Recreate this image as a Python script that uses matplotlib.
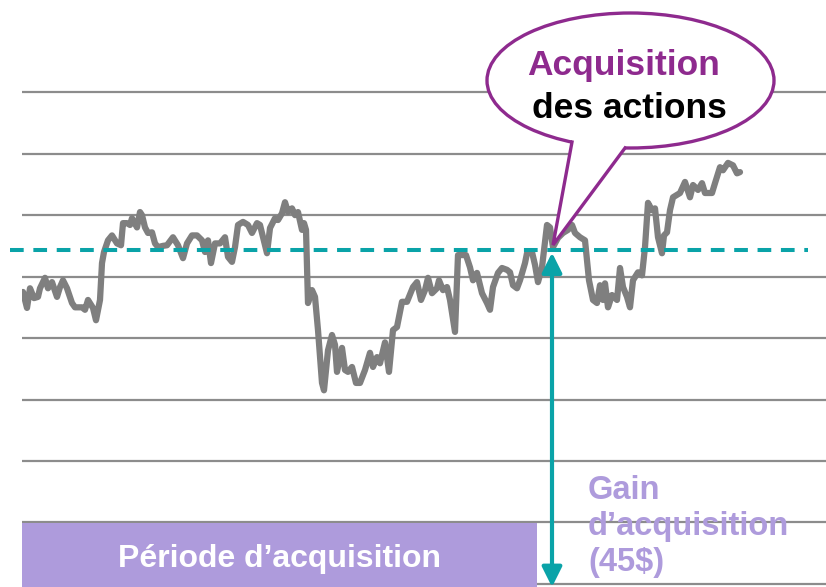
import numpy as np
import matplotlib
matplotlib.use("Agg")
import matplotlib.pyplot as plt
from matplotlib.patches import Ellipse, Polygon, Rectangle


# ============================================================
# DATA
# ============================================================
days = [23, 27, 30, 34, 38, 40, 45, 48, 52, 57, 60, 63, 67, 72, 75, 82, 85, 88, 93, 96,
        100, 102, 104, 108, 112, 117, 121, 123, 127, 130, 132, 137, 140, 142, 145, 148, 152, 155, 158, 163,
        167, 173, 178, 183, 187, 192, 197, 202, 205, 208, 211, 215, 220, 225, 228, 232, 235, 238, 243, 248,
        252, 257, 260, 263, 267, 270, 275, 278, 282, 285, 288, 292, 295, 298, 302, 304, 306, 308,
        312, 315, 318, 322, 324, 328, 332, 335, 337, 342, 345, 348, 352, 356, 360, 365, 370, 373, 377, 380,
        385, 389, 393, 397, 402, 407, 413, 417, 421, 425, 428, 432, 437, 439, 443,
        447, 450, 455, 458, 462, 466, 470, 473, 477, 482, 487, 490, 493, 498, 502, 507, 510, 513, 517, 520,
        525, 527, 532, 535, 538, 542, 547, 550, 553, 558, 563, 568, 572, 575, 580, 585, 589, 593,
        597, 600, 603, 605, 608, 612, 617, 620, 623, 627, 630, 633, 638, 642, 645, 648, 652, 655, 658, 662,
        664, 667, 670, 673, 680, 685, 690, 693, 698, 702, 705, 712, 715, 720, 723, 728, 733, 737, 740]

price = [47.5, 44.9, 48.1, 46.5, 46.7, 48.1, 49.8, 48.1, 49.1, 46.7, 48.3, 49.4, 48.1, 45.7, 45.0, 45.0, 44.6, 46.2, 44.9, 42.9,
         46.2, 52.2, 54.0, 55.9, 56.7, 55.4, 55.1, 58.7, 58.7, 58.4, 59.5, 58.0, 60.5, 60.0, 58.0, 57.1, 57.2, 55.4, 54.8, 55.0,
         55.1, 56.4, 55.1, 53.0, 55.4, 56.7, 56.7, 55.9, 54.0, 55.9, 52.2, 55.4, 55.4, 56.4, 53.2, 52.4, 54.8, 58.4, 58.9, 58.4,
         57.1, 58.7, 58.4, 56.4, 53.8, 57.9, 59.5, 59.2, 60.3, 62.1, 60.5, 61.1, 60.0, 60.5, 57.6, 58.7, 57.6, 45.7,
         47.8, 46.7, 41.3, 32.7, 31.5, 38.0, 40.5, 38.9, 34.5, 38.4, 34.8, 34.5, 35.3, 32.7, 32.7, 34.8, 37.6, 35.3, 36.9, 35.9,
         39.3, 34.5, 41.3, 41.8, 45.9, 45.9, 48.3, 49.1, 46.2, 47.8, 49.8, 47.3, 48.1, 49.4, 47.8,
         48.3, 46.2, 41.0, 53.5, 53.5, 53.5, 51.5, 49.4, 50.6, 47.3, 45.7, 44.6, 48.3, 50.6, 51.4, 51.1, 50.7, 48.6, 48.1, 49.4,
         52.2, 53.8, 54.0, 51.9, 49.1, 51.5, 58.4, 58.0, 54.8, 56.3, 57.1, 57.6, 58.4, 57.1, 56.4, 55.9, 49.4, 46.2,
         45.7, 48.6, 46.2, 48.9, 45.0, 47.0, 46.2, 51.4, 48.3, 46.7, 45.0, 49.4, 50.7, 50.2, 54.8, 62.0, 60.8, 61.1, 56.4, 53.8,
         56.7, 57.2, 60.8, 62.9, 63.6, 65.4, 62.9, 64.9, 64.1, 65.2, 63.6, 63.6, 65.2, 67.8, 67.3, 68.5, 68.1, 66.8, 67.0]

grid_levels = [0, 10, 20, 30, 40, 50, 60, 70, 80]
strike_price = 54.3
purchase_day = 552

bubble_top = "Acquisition"
bubble_bottom = "des actions"
period_label = "Période d\u2019acquisition"
gain_label = "Gain\nd\u2019acquisition\n(45$)"


# ============================================================
# STYLE
# ============================================================
plt.rcParams["font.family"] = ["Liberation Sans", "DejaVu Sans"]
GRID = "#8c8c8c"
LINE = "#7f7f7f"
TEAL = "#0aa3a8"
PURPLE = "#8e2a8e"
LAVENDER = "#ae9bdc"


# ============================================================
# PLOT
# ============================================================
fig = plt.figure(figsize=(8.26, 5.87), dpi=100)
ax = fig.add_axes([22 / 826, 0, 804 / 826, 1])
ax.set_xlim(22, 826)
ax.set_ylim(-0.5, 95)
ax.axis("off")

ax.hlines(grid_levels, 22, 826, color=GRID, lw=1.6, zorder=1)
ax.plot(days, price, color=LINE, lw=4.5, solid_joinstyle="round",
        solid_capstyle="round", zorder=3)
ax.plot([10, 808], [strike_price, strike_price], color=TEAL, lw=2.9,
        dashes=(3.4, 2.4), clip_on=False, zorder=4)
ax.annotate("", xy=(purchase_day, strike_price - 0.4), xytext=(purchase_day, -0.5),
            arrowprops=dict(arrowstyle="<|-|>,head_length=0.6,head_width=0.3",
                            mutation_scale=20, color=TEAL, lw=3,
                            shrinkA=0, shrinkB=0), zorder=5)

# overlay in pixel units for the annotations
ov = fig.add_axes([0, 0, 1, 1])
ov.set_xlim(0, 826)
ov.set_ylim(587, 0)
ov.axis("off")
ov.patch.set_alpha(0)

ov.add_patch(Rectangle((22, 523), 515, 66, facecolor=LAVENDER, edgecolor="none", zorder=2))
ov.text(279, 559, period_label, color="white", fontsize=23, fontweight="bold",
        ha="center", va="center", zorder=3)
ov.text(588, 475, gain_label, color=LAVENDER, fontsize=23.5, fontweight="bold",
        ha="left", va="top", linespacing=1.2, zorder=3)

# speech bubble
ov.add_patch(Ellipse((630.5, 80.5), 287, 135, facecolor="white", edgecolor=PURPLE,
                     lw=2.4, zorder=5))
ov.add_patch(Polygon([(572, 142), (553, 245), (625, 148), (625, 135), (572, 132)],
                     closed=True, facecolor="white", edgecolor="none", zorder=6))
ov.plot([572, 553, 625], [142, 245, 148], color=PURPLE, lw=2.4,
        solid_joinstyle="miter", zorder=7)
ov.text(624, 65, bubble_top, color=PURPLE, fontsize=25.5, fontweight="bold",
        ha="center", va="center", zorder=8)
ov.text(629, 108, bubble_bottom, color="black", fontsize=25.5, fontweight="bold",
        ha="center", va="center", zorder=8)

fig.savefig("out.png", dpi=100)
plt.close(fig)
